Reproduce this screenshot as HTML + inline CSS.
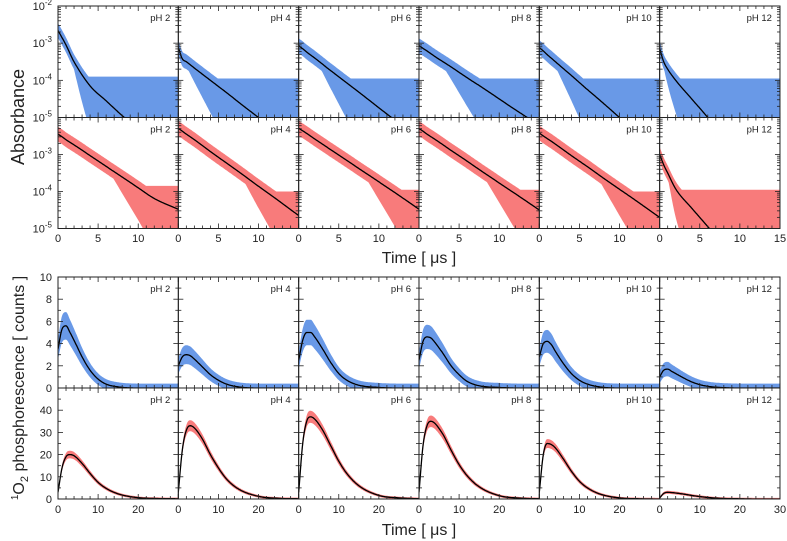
<!DOCTYPE html>
<html><head><meta charset="utf-8"><style>
html,body{margin:0;padding:0;background:#fff;}
svg{display:block;font-family:"Liberation Sans",Arial,sans-serif;}
</style></head><body>
<svg id="chart" width="787" height="541" viewBox="0 0 787 541">
<g id="root"></g>
</svg>
<script>
// ---------- data ----------
const phLabels = ["pH 2","pH 4","pH 6","pH 8","pH 10","pH 12"];
// transient absorbance: log10(A) fit values at these times (µs)
const absTimes = [0,0.5,1,2,4,6,8,10,12,15];
const absBlue = [
 [-2.66,-2.85,-3.05,-3.5,-4.15,-4.55,-4.95,-5.3,-5.6,-6.1],
 [-3.12,-3.42,-3.5,-3.67,-4.0,-4.33,-4.67,-5.0,-5.33,-5.83],
 [-3.07,-3.15,-3.24,-3.4,-3.74,-4.07,-4.4,-4.74,-5.07,-5.57],
 [-3.07,-3.14,-3.21,-3.36,-3.64,-3.93,-4.21,-4.5,-4.79,-5.21],
 [-3.12,-3.21,-3.31,-3.5,-3.87,-4.25,-4.62,-5.0,-5.37,-5.94],
 [-3.15,-3.5,-3.7,-4.0,-4.5,-5.0,-5.5,-6.0,-6.5,-7.25]
];
const absRed = [
 [-2.45,-2.52,-2.6,-2.74,-3.03,-3.32,-3.61,-3.9,-4.19,-4.48],
 [-2.29,-2.37,-2.45,-2.6,-2.92,-3.23,-3.54,-3.86,-4.17,-4.65],
 [-2.29,-2.36,-2.43,-2.58,-2.87,-3.16,-3.45,-3.74,-4.03,-4.48],
 [-2.3,-2.37,-2.45,-2.59,-2.89,-3.18,-3.48,-3.77,-4.06,-4.5],
 [-2.42,-2.5,-2.57,-2.72,-3.03,-3.33,-3.64,-3.94,-4.24,-4.7],
 [-3.0,-3.28,-3.5,-3.93,-4.45,-4.95,-5.45,-5.95,-6.45,-7.2]
];
const absFloorBlue = [-3.9,-3.95,-3.95,-3.95,-3.95,-3.95];
const absFloorRed = [-3.85,-4.0,-3.95,-3.95,-4.0,-3.95];
const absYTicks = [-2,-3,-4,-5];
const absXTicks = [0,5,10];
// singlet oxygen phosphorescence (counts)
const phosTimes = [0,1,2,3,4,6,8,10,12,15,20,25,30];
const phosBlue = [
 [3.5,5.3,5.6,5.0,4.3,2.8,1.6,0.8,0.35,0.1,0,0,0],
 [2.0,2.8,3.0,2.9,2.6,1.9,1.2,0.7,0.35,0.1,0,0,0],
 [2.5,4.3,5.0,5.0,4.6,3.5,2.3,1.3,0.7,0.25,0.05,0,0],
 [2.5,4.2,4.6,4.5,4.1,3.1,2.0,1.2,0.6,0.2,0.05,0,0],
 [2.8,4.0,4.2,3.9,3.3,2.2,1.3,0.7,0.35,0.1,0,0,0],
 [1.0,1.6,1.7,1.5,1.3,0.9,0.55,0.3,0.15,0.05,0,0,0]
];
const phosRed = [
 [3,14,19,20,19.5,16,11.5,7.5,4.8,2.3,0.6,0.2,0.1],
 [3,22,31,33,32,27,20,14,9,4.5,1.2,0.3,0.1],
 [3,25,35,37,36,31,24,17,11.5,6,1.6,0.5,0.1],
 [3,24,33,35,34,29,22,15.5,10.5,5.5,1.5,0.4,0.1],
 [3,20,25,24.5,23,18,12.5,8,5,2.3,0.5,0.1,0],
 [0.5,2.5,3,2.9,2.7,2.2,1.6,1.1,0.7,0.3,0.1,0,0]
];
const phosBlueYTicks = [0,2,4,6,8,10];
const phosRedYTicks = [0,10,20,30,40];
const phosXTicks = [0,10,20];

// ---------- layout ----------
const NS="http://www.w3.org/2000/svg";
const root=document.getElementById('root');
const PX0=58, PW=120.33;
function mk(tag,attrs,parent){const e=document.createElementNS(NS,tag);for(const k in attrs)e.setAttribute(k,attrs[k]);(parent||root).appendChild(e);return e;}
// monotone cubic (Fritsch-Carlson) interpolation
function interp(ts,vs,t){
  const n=ts.length;
  const d=[],m=new Array(n);
  for(let i=0;i<n-1;i++)d.push((vs[i+1]-vs[i])/(ts[i+1]-ts[i]));
  m[0]=d[0];m[n-1]=d[n-2];
  for(let i=1;i<n-1;i++){m[i]=(d[i-1]*d[i]<=0)?0:(d[i-1]+d[i])/2;}
  for(let i=0;i<n-1;i++){
    if(d[i]===0){m[i]=0;m[i+1]=0;continue;}
    const a=m[i]/d[i],b=m[i+1]/d[i],s=a*a+b*b;
    if(s>9){const tt=3/Math.sqrt(s);m[i]=tt*a*d[i];m[i+1]=tt*b*d[i];}
  }
  let i=0;while(i<n-2&&t>ts[i+1])i++;
  const h=ts[i+1]-ts[i],u=Math.min(1,Math.max(0,(t-ts[i])/h));
  const h00=2*u*u*u-3*u*u+1,h10=u*u*u-2*u*u+u,h01=-2*u*u*u+3*u*u,h11=u*u*u-u*u;
  return h00*vs[i]+h10*h*m[i]+h01*vs[i+1]+h11*h*m[i+1];
}
let clipId=0;

function drawPanel(k,top,h,xmax,ymin,ymax,times,vals,color,bandFn,xMinorStep,yMinor,label,rowName){
  const x0=PX0+k*PW, x1=x0+PW;
  const sx=t=>x0+t/xmax*PW;
  const sy=v=>top+h-(v-ymin)/(ymax-ymin)*h;
  const g=mk('g',{});
  
  
  const cid='c'+(clipId++);
  const cp=mk('clipPath',{id:cid},g);
  mk('rect',{x:x0,y:top,width:PW,height:h},cp);
  const up=[],lo=[];
  const step=xmax/200;
  for(let t=0;t<=xmax+1e-9;t+=step){
    const f=interp(times,vals,t);
    const b=bandFn(f,t);
    up.push(sx(t).toFixed(1)+','+sy(b[1]).toFixed(1));
    lo.push(sx(t).toFixed(1)+','+sy(b[0]).toFixed(1));
  }
  const band=mk('polygon',{points:up.concat(lo.reverse()).join(' '),fill:color,'fill-opacity':0.72,'clip-path':'url(#'+cid+')'},g);
  
  
  const pts=[];
  for(let t=0;t<=xmax+1e-9;t+=step){pts.push(sx(t).toFixed(1)+','+sy(interp(times,vals,t)).toFixed(1));}
  const line=mk('polyline',{points:pts.join(' '),fill:'none',stroke:'#000','stroke-width':1.3,'clip-path':'url(#'+cid+')'},g);
  
  
  mk('rect',{x:x0,y:top,width:PW,height:h,fill:'none',stroke:'#222','stroke-width':1},g);
  for(let t=0;t<=xmax+1e-9;t+=xMinorStep){
    const major=Math.abs(t/(xmax/3)-Math.round(t/(xmax/3)))<1e-6;
    const L=major?5:3;
    mk('line',{x1:sx(t),x2:sx(t),y1:top+h,y2:top+h-L,stroke:'#222','stroke-width':0.8},g);
    mk('line',{x1:sx(t),x2:sx(t),y1:top,y2:top+L,stroke:'#222','stroke-width':0.8},g);
  }
  yMinor.forEach(m=>{
    const y=sy(m.v);const L=m.major?5:3;
    mk('line',{x1:x0,x2:x0+L,y1:y,y2:y,stroke:'#222','stroke-width':0.8},g);
    mk('line',{x1:x1,x2:x1-L,y1:y,y2:y,stroke:'#222','stroke-width':0.8},g);
  });
  const tl=mk('text',{x:x1-8,y:top+15,'font-size':9.5,'text-anchor':'end',fill:'#222'},g);
  tl.textContent=label;
  
  
  return {sx,sy};
}

const logMinor=[];
for(let d=-5;d<=-3;d++){for(let m=1;m<10;m++){logMinor.push({v:d+Math.log10(m),major:m===1});}}
logMinor.push({v:-2,major:true});

function absBand(floor){return (f,t)=>{const up=Math.max(f+0.2,floor);const lo=f-0.2-1.5*Math.max(0,floor+0.4-f);return [lo,up];};}

const TOP1=6,H1=111.5,TOP2=117.5,H2=111;
let sxs=[];
for(let k=0;k<6;k++){
  const r=drawPanel(k,TOP1,H1,15,-5,-2,absTimes,absBlue[k],'#2f72de',absBand(absFloorBlue[k]),1,logMinor,phLabels[k],'absorbance-blue');
  drawPanel(k,TOP2,H2,15,-5,-2,absTimes,absRed[k],'#f54848',absBand(absFloorRed[k]),1,logMinor,phLabels[k],'absorbance-red');
  sxs.push(r.sx);
}
const linBlueMinor=[];for(let v=0;v<=10;v+=1)linBlueMinor.push({v,major:v%2===0});
const linRedMinor=[];for(let v=0;v<=50;v+=5)linRedMinor.push({v,major:v%10===0});
const TOP3=277,H3=111,TOP4=388,H4=111;
let psx=[];
for(let k=0;k<6;k++){
  const r=drawPanel(k,TOP3,H3,30,0,10,phosTimes,phosBlue[k],'#2f72de',(f)=>{const s=0.4+0.15*f;return [Math.max(f-s,-0.1),f+s];},2,linBlueMinor,phLabels[k],'phosphorescence-blue');
  drawPanel(k,TOP4,H4,30,0,50,phosTimes,phosRed[k],'#f54848',(f)=>{const s=0.5+0.06*f;return [f-s,f+s];},2,linRedMinor,phLabels[k],'phosphorescence-red');
  psx.push(r.sx);
}

function txt(x,y,s,attrs,name){const t=mk('text',Object.assign({x,y,'font-size':11,fill:'#222'},attrs||{}));t.textContent=s;return t;}
function logLabel(y,exp,name){
  const t=mk('text',{x:52,y:y+4,'font-size':11,fill:'#222','text-anchor':'end'});
  
  const a=mk('tspan',{},t);a.textContent='10';
  const b=mk('tspan',{dy:-5,'font-size':8},t);b.textContent=String(exp);
}
const syA=v=>TOP1+H1-(v+5)/3*H1;
const syB=v=>TOP2+H2-(v+5)/3*H2;
absYTicks.forEach(v=>logLabel(syA(v),v,'y-tick-abs-top'));
absYTicks.filter(v=>v<-2).forEach(v=>logLabel(syB(v),v,'y-tick-abs-bottom'));
for(let k=0;k<6;k++){
  absXTicks.forEach(t=>txt(sxs[k](t),242,String(t),{'text-anchor':'middle'},'x-tick-abs'));
  phosXTicks.forEach(t=>txt(psx[k](t),513,String(t),{'text-anchor':'middle'},'x-tick-phos'));
}
txt(sxs[5](15),242,'15',{'text-anchor':'middle'},'x-tick-abs');
txt(psx[5](30),513,'30',{'text-anchor':'middle'},'x-tick-phos');
phosBlueYTicks.forEach(v=>txt(52,TOP3+H3-v/10*H3+4,String(v),{'text-anchor':'end'},'y-tick-phos-top'));
phosRedYTicks.forEach(v=>txt(52,TOP4+H4-v/50*H4+4,String(v),{'text-anchor':'end'},'y-tick-phos-bottom'));

txt(419,263,'Time [ μs ]',{'text-anchor':'middle','font-size':16},'x-axis-title-absorbance');
txt(419,535,'Time [ μs ]',{'text-anchor':'middle','font-size':16},'x-axis-title-phosphorescence');
txt(24,117,'Absorbance',{'text-anchor':'middle','font-size':18,transform:'rotate(-90 24 117)'},'y-axis-title-absorbance');
const yt=mk('text',{x:24,y:388,'font-size':16,fill:'#222','text-anchor':'middle',transform:'rotate(-90 24 388)'});


const s1=mk('tspan',{dy:-6,'font-size':10},yt);s1.textContent='1';
const s2=mk('tspan',{dy:6},yt);s2.textContent='O';
const s3=mk('tspan',{dy:4,'font-size':11},yt);s3.textContent='2';
const s4=mk('tspan',{dy:-4},yt);s4.textContent=' phosphorescence [ counts ]';
</script>
</body></html>
